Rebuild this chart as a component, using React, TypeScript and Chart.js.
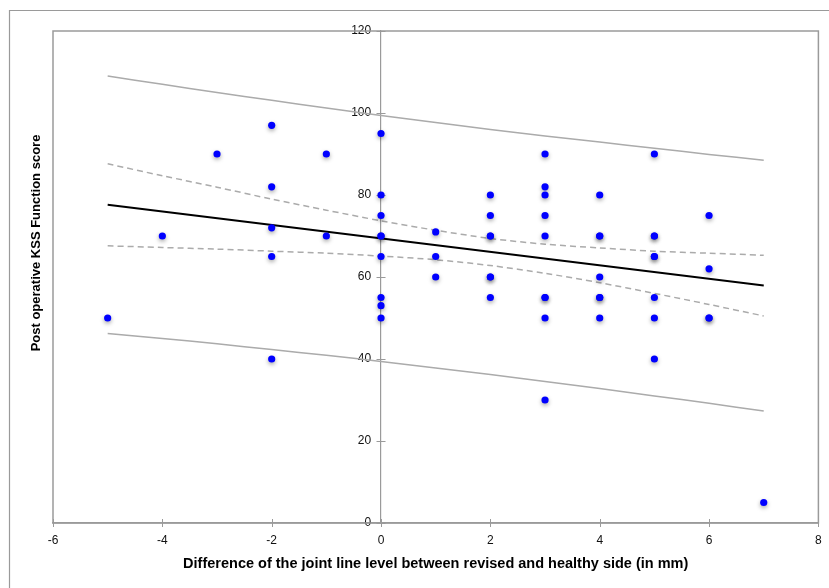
import React, { useEffect, useRef } from "react";
import { Chart, registerables } from "chart.js";

Chart.register(...registerables);

// ---- data ----
const xTickValues = [-6, -4, -2, 0, 2, 4, 6, 8];
const yTickValues = [0, 20, 40, 60, 80, 100, 120];

const scatterX = [
  -5,
  -4,
  -3,
  -2, -2, -2, -2, -2,
  -1, -1,
  0, 0, 0, 0, 0, 0, 0, 0, 0,
  1, 1, 1,
  2, 2, 2, 2, 2, 2, 2,
  3, 3, 3, 3, 3, 3, 3, 3, 3,
  4, 4, 4, 4, 4, 4, 4,
  5, 5, 5, 5, 5, 5, 5, 5,
  6, 6, 6, 6,
  7,
];
const scatterY = [
  50,
  70,
  90,
  97, 82, 72, 65, 40,
  90, 70,
  95, 80, 75, 70, 70, 65, 55, 53, 50,
  71, 65, 60,
  80, 75, 70, 70, 60, 60, 55,
  90, 82, 80, 75, 70, 55, 55, 50, 30,
  80, 70, 70, 60, 55, 55, 50,
  90, 70, 70, 65, 65, 55, 50, 40,
  75, 62, 50, 50,
  5,
];

const fitX = [-5, 7];
const fitY = [77.6, 57.9];

const bandX = [-5, -4, -3, -2, -1, 0, 1, 2, 3, 4, 5, 6, 7];
const confUpper = [87.6, 84.7, 81.9, 79.0, 76.3, 73.7, 71.4, 69.4, 68.0, 67.1, 66.3, 65.8, 65.3];
const confLower = [67.6, 67.2, 66.8, 66.3, 65.8, 65.1, 64.2, 62.8, 60.9, 58.6, 56.0, 53.3, 50.5];
const predUpper = [109.0, 107.0, 105.0, 103.1, 101.2, 99.4, 97.7, 96.0, 94.4, 92.9, 91.4, 89.9, 88.5];
const predLower = [46.2, 45.0, 43.7, 42.3, 40.9, 39.4, 37.8, 36.2, 34.5, 32.8, 31.0, 29.2, 27.3];

const xTitle = "Difference of the joint line level between revised and healthy side (in mm)";
const yTitle = "Post operative KSS Function score";

const FONT = '"Liberation Sans", Arial, Helvetica, sans-serif';
const AXIS_GRAY = "#9a9a9a";
const LINE_GRAY = "#ababab";

export default function App() {
  const ref = useRef<HTMLCanvasElement>(null);

  useEffect(() => {
    const canvas = ref.current;
    if (!canvas) return;
    const toPts = (xs: number[], ys: number[]) => xs.map((x, i) => ({ x, y: ys[i] }));

    const decor = {
      id: "decor",
      beforeDatasetsDraw(chart: any) {
        const { ctx, chartArea: a, scales } = chart;
        const sx = scales.x;
        const sy = scales.y;
        const x0 = sx.getPixelForValue(0);
        ctx.save();
        ctx.strokeStyle = AXIS_GRAY;
        ctx.lineWidth = 1;
        ctx.beginPath();
        sy.ticks.forEach((t: any) => {
          const py = Math.round(sy.getPixelForValue(t.value)) + 0.5;
          ctx.moveTo(x0 - 4.5, py);
          ctx.lineTo(x0 + 4.5, py);
        });
        sx.ticks.forEach((t: any) => {
          const px = Math.round(sx.getPixelForValue(t.value)) + 0.5;
          ctx.moveTo(px, a.bottom - 4);
          ctx.lineTo(px, a.bottom + 4);
        });
        ctx.stroke();
        ctx.restore();
      },
      beforeDatasetDraw(chart: any, args: any) {
        if (args.index === 0) {
          const ctx = chart.ctx;
          ctx.save();
          ctx.shadowColor = "rgba(0,0,0,0.35)";
          ctx.shadowBlur = 4;
          ctx.shadowOffsetX = 0;
          ctx.shadowOffsetY = 2;
        }
      },
      afterDatasetDraw(chart: any, args: any) {
        if (args.index === 0) chart.ctx.restore();
      },
      afterDraw(chart: any) {
        const { ctx, chartArea: a } = chart;
        ctx.save();
        // plot frame
        ctx.strokeStyle = AXIS_GRAY;
        ctx.lineWidth = 1.5;
        ctx.strokeRect(a.left, a.top, a.right - a.left, a.bottom - a.top);
        // outer frame
        ctx.lineWidth = 1.2;
        ctx.beginPath();
        ctx.moveTo(9.5, chart.height + 2);
        ctx.lineTo(9.5, 10.5);
        ctx.lineTo(chart.width + 2, 10.5);
        ctx.stroke();
        // y title
        ctx.fillStyle = "#000";
        ctx.font = `bold 13px ${FONT}`;
        ctx.textAlign = "center";
        ctx.textBaseline = "alphabetic";
        ctx.translate(40, 243);
        ctx.rotate(-Math.PI / 2);
        ctx.fillText(yTitle, 0, 0);
        ctx.restore();
      },
    };

    const tickFont = { family: FONT, size: 12 };

    const chart = new Chart(canvas, {
      type: "scatter",
      data: {
        datasets: [
          {
            label: "Patients",
            data: toPts(scatterX, scatterY),
            backgroundColor: "#0000ff",
            borderWidth: 0,
            pointRadius: 3.6,
            pointHoverRadius: 3.6,
          },
          {
            label: "Regression",
            data: toPts(fitX, fitY),
            showLine: true,
            borderColor: "#000",
            borderWidth: 2,
            pointRadius: 0,
          },
          {
            label: "CI upper",
            data: toPts(bandX, confUpper),
            showLine: true,
            borderColor: LINE_GRAY,
            borderWidth: 1.5,
            borderDash: [6, 4],
            pointRadius: 0,
            tension: 0.3,
          },
          {
            label: "CI lower",
            data: toPts(bandX, confLower),
            showLine: true,
            borderColor: LINE_GRAY,
            borderWidth: 1.5,
            borderDash: [6, 4],
            pointRadius: 0,
            tension: 0.3,
          },
          {
            label: "PI upper",
            data: toPts(bandX, predUpper),
            showLine: true,
            borderColor: LINE_GRAY,
            borderWidth: 1.5,
            pointRadius: 0,
            tension: 0.3,
          },
          {
            label: "PI lower",
            data: toPts(bandX, predLower),
            showLine: true,
            borderColor: LINE_GRAY,
            borderWidth: 1.5,
            pointRadius: 0,
            tension: 0.3,
          },
        ],
      },
      options: {
        animation: false,
        responsive: false,
        devicePixelRatio: 1,
        layout: { padding: { left: 53, top: 31, right: 10.6, bottom: 0 } },
        plugins: {
          legend: { display: false },
          tooltip: { enabled: false },
        },
        scales: {
          x: {
            type: "linear",
            position: "bottom",
            min: -6,
            max: 8,
            afterBuildTicks: (s: any) => {
              s.ticks = xTickValues.map((v) => ({ value: v }));
            },
            afterFit: (s: any) => {
              s.height = 65;
              s.paddingLeft = 0;
              s.paddingRight = 0;
            },
            grid: { display: true, drawOnChartArea: false, drawTicks: false },
            border: { display: true, color: AXIS_GRAY, width: 1.5 },
            ticks: {
              padding: 10,
              color: "#111",
              maxRotation: 0,
              font: tickFont,
            },
            title: {
              display: true,
              text: xTitle,
              color: "#000",
              font: { family: FONT, size: 14.5, weight: "bold" },
              padding: { top: 0, bottom: 15 },
            },
          },
          // axis line through x = 0
          y: {
            type: "linear",
            position: { x: 0 } as any,
            min: 0,
            max: 120,
            afterBuildTicks: (s: any) => {
              s.ticks = yTickValues.map((v) => ({ value: v }));
            },
            grid: { display: true, drawOnChartArea: false, drawTicks: false },
            border: { display: true, color: AXIS_GRAY, width: 1.2 },
            ticks: { display: false },
          },
          // tick labels of the same axis, set just left of the x = 0 line
          yLabels: {
            type: "linear",
            axis: "y",
            position: { x: -0.18 } as any,
            min: 0,
            max: 120,
            afterBuildTicks: (s: any) => {
              s.ticks = yTickValues.map((v) => ({ value: v }));
            },
            grid: { display: false, drawOnChartArea: false, drawTicks: false },
            border: { display: false },
            ticks: {
              padding: 0,
              color: "#111",
              font: tickFont,
            },
          },
        },
      },
      plugins: [decor],
    } as any);

    return () => chart.destroy();
  }, []);

  return (
    <canvas
      ref={ref}
      width={829}
      height={588}
      style={{ position: "absolute", left: 0, top: 0, display: "block", width: 829, height: 588 }}
    />
  );
}
